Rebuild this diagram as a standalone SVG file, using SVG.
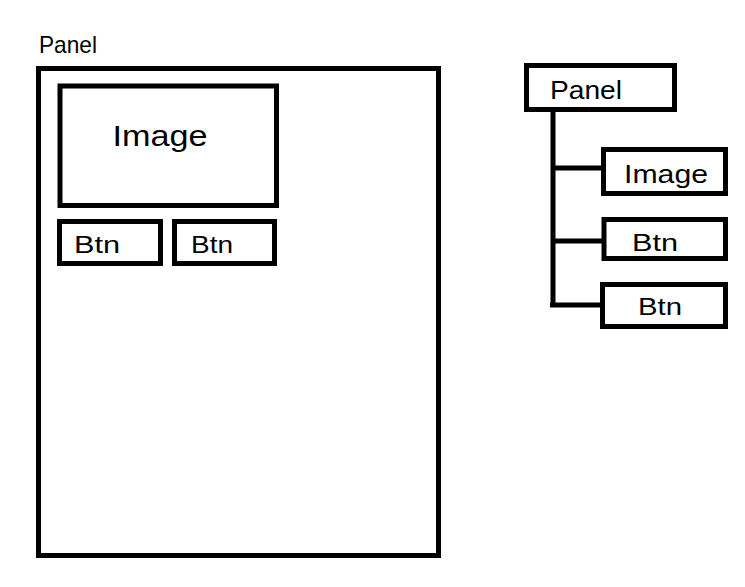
<svg xmlns="http://www.w3.org/2000/svg" width="745" height="587" viewBox="0 0 745 587">
<style>
.box{fill:#fff;stroke:#000;stroke-width:5}
.ln{stroke:#000;stroke-width:5;fill:none}
text{font-family:"Liberation Sans","DejaVu Sans",sans-serif;fill:#000;text-anchor:middle}
</style>
<rect width="745" height="587" fill="#fff"/>
<g id="label-panel"><text x="68" y="53" font-size="24" textLength="58" lengthAdjust="spacingAndGlyphs">Panel</text></g>
<g id="panel"><rect class="box" x="38.5" y="68.5" width="400" height="487"/></g>
<g id="image"><rect class="box" x="60" y="86" width="216.5" height="119.5"/><text x="160" y="146" font-size="30" textLength="95" lengthAdjust="spacingAndGlyphs">Image</text></g>
<g id="btn1"><rect class="box" x="59.5" y="221.5" width="101" height="42"/><text x="97" y="253" font-size="24" textLength="46" lengthAdjust="spacingAndGlyphs">Btn</text></g>
<g id="btn2"><rect class="box" x="174.5" y="221.5" width="100" height="42"/><text x="212" y="253" font-size="24" textLength="42" lengthAdjust="spacingAndGlyphs">Btn</text></g>
<g id="connectors">
<path class="ln" d="M553 110 V306 M553 168 H602 M553 241 H603 M550 305 H601"/>
</g>
<g id="tree-panel"><rect class="box" x="526.5" y="65.5" width="148" height="44"/><text x="586" y="99" font-size="26" textLength="72" lengthAdjust="spacingAndGlyphs">Panel</text></g>
<g id="tree-image"><rect class="box" x="603.5" y="149.5" width="122" height="44"/><text x="666" y="183" font-size="26" textLength="84" lengthAdjust="spacingAndGlyphs">Image</text></g>
<g id="tree-btn1"><rect class="box" x="604" y="219.5" width="121.5" height="39"/><text x="655" y="251" font-size="24" textLength="46" lengthAdjust="spacingAndGlyphs">Btn</text></g>
<g id="tree-btn2"><rect class="box" x="602.5" y="284.5" width="123" height="42"/><text x="660" y="315" font-size="24" textLength="44" lengthAdjust="spacingAndGlyphs">Btn</text></g>
</svg>
